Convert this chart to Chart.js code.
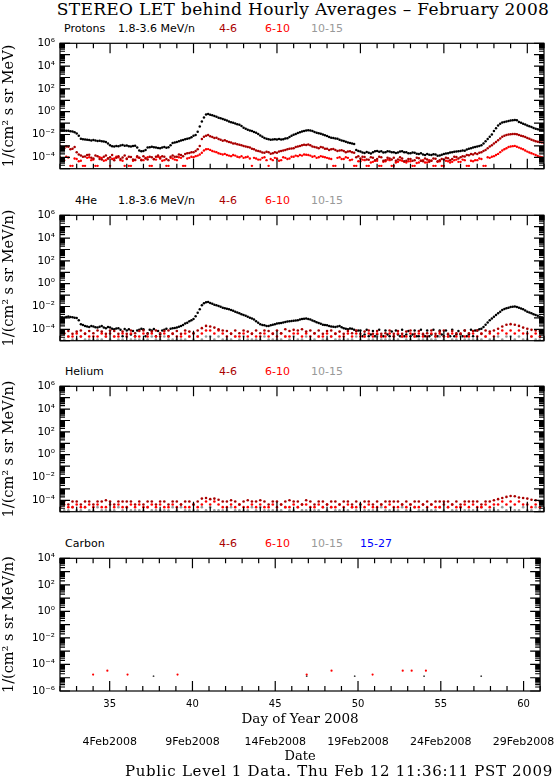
<!DOCTYPE html>
<html>
<head>
<meta charset="utf-8">
<script src="https://cdn.jsdelivr.net/npm/chart.js@4.4.1/dist/chart.umd.min.js"></script>
<style>
  body { margin: 0; background: #fff; width: 560px; height: 778px; position: relative; overflow: hidden; }
  canvas { position: absolute; left: 0; }
  .txt { position: absolute; white-space: nowrap; line-height: 1; color: #000; }
  .serif { font-family: "DejaVu Serif", serif; }
  .lg { position: absolute; left: 0; width: 560px; height: 12px; font: 11px "DejaVu Sans", sans-serif; line-height: 12px; }
  .lg span { position: absolute; top: 0; white-space: nowrap; }
</style>
</head>
<body>

<div class="txt serif" style="left:303px; top:1px; transform:translateX(-50%); font-size:17px; letter-spacing:0.35px;">STEREO LET behind Hourly Averages – February 2008</div>

<div class="lg" style="top:23px">
  <span style="left:64px">Protons</span><span style="left:118px">1.8-3.6 MeV/n</span>
  <span style="left:219px;color:#aa0000">4-6</span><span style="left:265px;color:#ff0000">6-10</span><span style="left:311px;color:#999999">10-15</span>
</div>
<div class="lg" style="top:195px">
  <span style="left:75px">4He</span><span style="left:118px">1.8-3.6 MeV/n</span>
  <span style="left:219px;color:#aa0000">4-6</span><span style="left:265px;color:#ff0000">6-10</span><span style="left:311px;color:#999999">10-15</span>
</div>
<div class="lg" style="top:366px">
  <span style="left:65px">Helium</span>
  <span style="left:219px;color:#aa0000">4-6</span><span style="left:265px;color:#ff0000">6-10</span><span style="left:311px;color:#999999">10-15</span>
</div>
<div class="lg" style="top:538px">
  <span style="left:65px">Carbon</span>
  <span style="left:219px;color:#aa0000">4-6</span><span style="left:265px;color:#ff0000">6-10</span><span style="left:311px;color:#999999">10-15</span><span style="left:360px;color:#0000ff">15-27</span>
</div>

<canvas id="protons" width="560" height="148" style="top:32px"></canvas>
<canvas id="he4" width="560" height="148" style="top:204px"></canvas>
<canvas id="helium" width="560" height="148" style="top:375px"></canvas>
<canvas id="carbon" width="560" height="218" style="top:547px"></canvas>

<div class="txt serif" style="left:339px; top:764px; transform:translateX(-50%); font-size:15px; letter-spacing:0.7px;">Public Level 1 Data. Thu Feb 12 11:36:11 PST 2009</div>

<script>
// log10 flux read off the plot, sampled from day of year 32.0 to 61.0
// (8 per day for the main curves, 4 per day for the count-floor channels)
const firstDay = 32;
const lastDay = 61;

const dayTicks = [35, 40, 45, 50, 55, 60];
const dateLabels = ["4Feb2008", "9Feb2008", "14Feb2008", "19Feb2008", "24Feb2008", "29Feb2008"];
const fluxTicks = [1e6, 1e4, 1e2, 1e0, 1e-2, 1e-4];
const carbonFluxTicks = [1e4, 1e2, 1e0, 1e-2, 1e-4, 1e-6];

// Protons, 8 per day
const protonLow = [
  -1.62, -1.65, -1.64, -1.67, -1.68, -1.72, -1.74, -1.80,
  -1.92, -2.10, -2.38, -2.42, -2.44, -2.47, -2.48, -2.52,
  -2.49, -2.53, -2.56, -2.54, -2.60, -2.62, -2.66, -2.80,
  -2.95, -3.02, -3.06, -3.00, -3.02, -2.97, -2.93, -2.98,
  -2.96, -3.02, -3.06, -3.00, -2.98, -3.15, -3.40, -3.48,
  -3.45, -3.35, -3.15, -3.12, -3.08, -3.12, -3.15, -3.18,
  -3.20, -3.14, -3.10, -3.16, -3.12, -2.95, -2.75, -2.70,
  -2.66, -2.60, -2.52, -2.48, -2.42, -2.38, -2.32, -2.25,
  -2.12, -2.05, -1.75, -1.30, -0.85, -0.50, -0.25, -0.20,
  -0.26, -0.32, -0.38, -0.45, -0.52, -0.58, -0.63, -0.70,
  -0.78, -0.86, -0.92, -0.98, -1.04, -1.10, -1.15, -1.25,
  -1.40, -1.50, -1.58, -1.64, -1.70, -1.78, -1.85, -1.95,
  -2.08, -2.20, -2.30, -2.38, -2.42, -2.45, -2.44, -2.42,
  -2.43, -2.40, -2.44, -2.42, -2.36, -2.32, -2.22, -2.12,
  -2.02, -1.95, -1.86, -1.80, -1.74, -1.70, -1.66, -1.63,
  -1.66, -1.70, -1.78, -1.84, -1.90, -1.94, -2.00, -2.06,
  -2.14, -2.22, -2.28, -2.30, -2.35, -2.38, -2.45, -2.52,
  -2.58, -2.64, -2.70, -2.74, -2.80, -2.84, -3.35, -3.45,
  -3.50, -3.58, -3.62, -3.54, -3.60, -3.66, -3.55, -3.48,
  -3.45, -3.52, -3.48, -3.58, -3.55, -3.46, -3.50, -3.56,
  -3.55, -3.62, -3.58, -3.50, -3.48, -3.56, -3.55, -3.64,
  -3.65, -3.58, -3.60, -3.68, -3.70, -3.64, -3.75, -3.80,
  -3.70, -3.78, -3.80, -3.74, -3.75, -3.86, -3.85, -3.78,
  -3.70, -3.66, -3.65, -3.58, -3.55, -3.52, -3.50, -3.46,
  -3.45, -3.40, -3.42, -3.32, -3.25, -3.20, -3.15, -3.10,
  -3.05, -3.00, -2.95, -2.80, -2.60, -2.40, -2.20, -2.00,
  -1.70, -1.45, -1.20, -1.05, -0.95, -0.90, -0.85, -0.82,
  -0.78, -0.75, -0.72, -0.76, -0.90, -0.98, -1.05, -1.12,
  -1.20, -1.28, -1.35, -1.42, -1.50, -1.55, -1.60, -1.63,
  -1.65
];
const protonMid = [
  -3.00, -3.15, -3.20, -3.05, -3.08, -3.30, -3.25, -3.10,
  -3.55, -3.75, -3.85, -3.95, -3.92, -3.80, -3.78, -4.05,
  -4.10, -3.85, -3.90, -4.15, -4.20, -3.95, -3.85, -4.10,
  -4.00, -3.80, -4.25, -4.05, -3.90, -4.15, -4.02, -3.85,
  -4.15, -3.95, -3.98, -4.20, -4.22, -3.90, -4.05, -4.25,
  -3.90, -4.10, -4.20, -3.95, -4.00, -4.18, -3.95, -3.85,
  -4.10, -3.90, -3.96, -4.15, -4.25, -3.95, -3.85, -3.95,
  -3.95, -3.75, -3.80, -3.90, -3.70, -3.65, -3.62, -3.55,
  -3.55, -3.45, -3.30, -3.00, -2.40, -2.20, -2.10, -2.05,
  -2.15, -2.22, -2.30, -2.28, -2.40, -2.45, -2.55, -2.50,
  -2.60, -2.66, -2.70, -2.78, -2.80, -2.85, -2.90, -2.95,
  -3.00, -3.05, -3.10, -3.15, -3.25, -3.30, -3.40, -3.45,
  -3.50, -3.58, -3.60, -3.52, -3.55, -3.68, -3.65, -3.55,
  -3.60, -3.50, -3.45, -3.40, -3.35, -3.30, -3.25, -3.22,
  -3.20, -3.10, -3.05, -3.00, -2.95, -2.90, -2.92, -2.88,
  -2.95, -3.05, -3.10, -3.15, -3.20, -3.10, -3.15, -3.25,
  -3.25, -3.35, -3.30, -3.28, -3.35, -3.45, -3.40, -3.38,
  -3.45, -3.55, -3.50, -3.48, -3.55, -3.60, -4.00, -3.90,
  -4.10, -3.95, -3.97, -4.20, -4.22, -4.00, -4.05, -4.25,
  -4.15, -3.95, -4.00, -4.30, -4.25, -4.05, -4.10, -4.20,
  -4.05, -4.30, -4.20, -4.00, -4.10, -4.35, -4.30, -4.15,
  -4.15, -4.30, -4.25, -4.05, -4.08, -4.30, -4.35, -4.10,
  -4.20, -4.40, -4.30, -4.10, -4.12, -4.35, -4.25, -4.15,
  -4.20, -4.05, -4.08, -4.25, -4.15, -3.95, -3.98, -4.10,
  -4.00, -3.90, -3.92, -3.80, -3.82, -3.70, -3.75, -3.65,
  -3.70, -3.60, -3.55, -3.45, -3.35, -3.20, -3.05, -2.95,
  -2.80, -2.65, -2.50, -2.35, -2.20, -2.10, -2.05, -2.00,
  -1.98, -1.96, -1.95, -1.98, -2.05, -2.10, -2.15, -2.22,
  -2.30, -2.38, -2.45, -2.52, -2.60, -2.64, -2.68, -2.70,
  -2.73
];
const protonHigh = [
  -4.00, -4.20, -4.25, -3.95, -4.02, -4.75, -4.75, -4.10,
  -4.15, -4.35, -4.30, -4.75, -4.75, -4.05, -4.00, -4.25,
  -4.20, -4.75, -4.75, -4.00, -4.05, -4.30, -4.25, -4.10,
  -4.75, -4.15, -4.10, -3.95, -4.00, -4.25, -4.30, -4.75,
  -4.10, -4.75, -4.75, -4.30, -4.25, -4.00, -4.05, -4.20,
  -4.25, -4.05, -4.00, -4.75, -4.75, -4.15, -4.20, -3.95,
  -4.00, -4.30, -4.25, -4.75, -4.75, -4.05, -4.10, -4.20,
  -4.25, -4.00, -4.05, -4.75, -4.75, -4.10, -4.05, -3.95,
  -4.00, -3.90, -3.85, -3.75, -3.60, -3.40, -3.30, -3.28,
  -3.35, -3.45, -3.50, -3.55, -3.65, -3.70, -3.75, -3.70,
  -3.80, -3.85, -3.90, -3.80, -3.85, -3.95, -4.00, -3.90,
  -4.05, -4.00, -3.95, -4.10, -4.75, -4.05, -4.10, -4.20,
  -4.20, -4.05, -4.00, -4.25, -4.75, -4.15, -4.25, -4.05,
  -4.10, -4.30, -4.25, -4.00, -4.05, -4.15, -4.10, -3.95,
  -3.95, -3.85, -3.90, -3.80, -3.85, -3.75, -3.78, -3.80,
  -3.85, -3.95, -3.90, -4.05, -4.00, -3.90, -3.95, -4.00,
  -4.05, -4.10, -4.15, -4.75, -4.75, -4.05, -4.00, -4.15,
  -4.15, -4.00, -4.05, -4.25, -4.20, -4.75, -4.75, -4.35,
  -4.35, -4.20, -4.25, -4.75, -4.75, -4.45, -4.40, -4.30,
  -4.30, -4.75, -4.75, -4.40, -4.35, -4.20, -4.25, -4.75,
  -4.75, -4.45, -4.40, -4.25, -4.30, -4.40, -4.45, -4.35,
  -4.35, -4.75, -4.75, -4.50, -4.45, -4.30, -4.25, -4.45,
  -4.45, -4.25, -4.30, -4.75, -4.75, -4.40, -4.35, -4.75,
  -4.75, -4.30, -4.35, -4.45, -4.40, -4.25, -4.20, -4.40,
  -4.40, -4.20, -4.25, -4.75, -4.75, -4.30, -4.35, -4.25,
  -4.25, -4.10, -4.15, -4.75, -4.75, -4.00, -4.05, -3.95,
  -3.90, -3.80, -3.70, -3.55, -3.40, -3.30, -3.20, -3.10,
  -3.05, -3.02, -3.00, -3.08, -3.15, -3.22, -3.30, -3.40,
  -3.50, -3.58, -3.65, -3.72, -3.80, -3.88, -3.95, -4.00,
  -4.05
];

// 4He 1.8-3.6 MeV/n, 8 per day
const he4Low = [
  -2.90, -2.94, -2.96, -2.92, -2.88, -2.93, -2.95, -2.98,
  -3.00, -3.20, -3.55, -3.62, -3.70, -3.75, -3.80, -3.72,
  -3.75, -3.82, -3.85, -3.78, -3.70, -3.85, -3.90, -3.80,
  -3.85, -3.95, -4.00, -3.92, -3.90, -4.05, -4.60, -3.98,
  -4.10, -4.00, -4.45, -4.15, -4.60, -4.10, -4.05, -3.95,
  -4.00, -4.60, -4.35, -4.05, -4.10, -3.98, -4.60, -4.15,
  -4.45, -4.10, -4.05, -3.95, -4.60, -3.95, -3.90, -3.88,
  -3.85, -3.78, -3.70, -3.62, -3.50, -3.42, -3.30, -3.20,
  -3.10, -2.85, -2.55, -2.25, -1.90, -1.72, -1.62, -1.60,
  -1.70, -1.76, -1.85, -1.88, -1.95, -2.02, -2.10, -2.15,
  -2.20, -2.25, -2.30, -2.38, -2.45, -2.52, -2.60, -2.68,
  -2.75, -2.82, -2.90, -2.98, -3.05, -3.15, -3.30, -3.42,
  -3.55, -3.62, -3.65, -3.70, -3.70, -3.64, -3.60, -3.56,
  -3.50, -3.48, -3.45, -3.40, -3.35, -3.32, -3.30, -3.28,
  -3.25, -3.22, -3.20, -3.15, -3.10, -3.08, -3.05, -3.10,
  -3.15, -3.22, -3.30, -3.38, -3.45, -3.52, -3.60, -3.62,
  -3.65, -3.70, -3.75, -3.78, -3.80, -3.75, -3.70, -3.82,
  -3.90, -3.95, -4.00, -3.92, -3.95, -4.05, -4.15, -4.10,
  -4.10, -4.60, -4.45, -4.05, -4.60, -4.45, -4.15, -4.60,
  -4.45, -4.05, -4.60, -4.60, -4.10, -4.45, -4.60, -4.20,
  -4.60, -4.10, -4.45, -4.60, -4.05, -4.60, -4.45, -4.15,
  -4.60, -4.45, -4.10, -4.60, -4.60, -4.05, -4.45, -4.60,
  -4.10, -4.60, -4.45, -4.05, -4.60, -4.60, -4.10, -4.45,
  -4.60, -4.10, -4.45, -4.60, -4.05, -4.60, -4.45, -4.15,
  -4.45, -4.60, -4.10, -4.60, -4.45, -4.05, -4.60, -4.10,
  -4.10, -4.00, -3.95, -3.80, -3.60, -3.40, -3.20, -3.05,
  -2.90, -2.75, -2.60, -2.45, -2.30, -2.22, -2.15, -2.10,
  -2.05, -2.02, -2.00, -2.05, -2.10, -2.18, -2.25, -2.35,
  -2.45, -2.52, -2.60, -2.68, -2.75, -2.82, -2.90, -2.95,
  -3.00
];

// 4He higher channels, 4 per day
const he4Mid = [
  -4.10, -4.35, -4.15, -4.40,  -4.20, -4.10, -4.40, -4.15,  -4.35, -4.10, -4.20, -4.40,
  -4.10, -4.15, -4.40, -4.20,  -4.40, -4.10, -4.35, -4.15,  -4.10, -4.40, -4.20, -4.10,
  -4.35, -4.15, -4.10, -4.40,  -4.15, -4.40, -4.10, -4.20,  -4.35, -4.10, -3.90, -3.70,
  -3.75, -3.85, -4.00, -4.10,  -4.15, -4.40, -4.10, -4.35,  -4.10, -4.20, -4.40, -4.10,
  -4.35, -4.10, -4.15, -4.40,  -4.10, -4.35, -4.00, -4.15,  -4.05, -4.10, -4.00, -4.20,
  -4.10, -4.35, -4.10, -4.40,  -4.15, -4.10, -4.40, -4.20,  -4.40, -4.15, -4.35, -4.10,
  -4.40, -4.20, -4.10, -4.40,  -4.15, -4.40, -4.35, -4.10,  -4.40, -4.15, -4.40, -4.20,
  -4.10, -4.40, -4.15, -4.40,  -4.35, -4.10, -4.40, -4.20,  -4.10, -4.40, -4.15, -4.35,
  -4.40, -4.10, -4.35, -4.15,  -4.10, -4.40, -4.10, -4.20,  -4.10, -3.95, -3.75, -3.60,
  -3.55, -3.60, -3.70, -3.85,  -3.95, -4.05, -4.10, -4.15,  -4.10
];
const he4High = [
  -4.63, -4.37, -4.63, -4.63,  -4.37, -4.63, -4.37, -4.63,  -4.63, -4.63, -4.37, -4.63,
  -4.37, -4.63, -4.63, -4.37,  -4.63, -4.37, -4.63, -4.63,  -4.37, -4.63, -4.37, -4.63,
  -4.63, -4.37, -4.63, -4.37,  -4.63, -4.63, -4.37, -4.63,  -4.37, -4.63, -4.37, -4.10,
  -4.10, -4.37, -4.10, -4.37,  -4.63, -4.37, -4.63, -4.63,  -4.37, -4.63, -4.37, -4.63,
  -4.63, -4.37, -4.63, -4.37,  -4.63, -4.37, -4.63, -4.63,  -4.37, -4.37, -4.63, -4.37,
  -4.63, -4.37, -4.63, -4.63,  -4.37, -4.63, -4.37, -4.63,  -4.63, -4.37, -4.63, -4.37,
  -4.63, -4.63, -4.37, -4.63,  -4.37, -4.63, -4.63, -4.37,  -4.63, -4.37, -4.63, -4.63,
  -4.37, -4.63, -4.37, -4.63,  -4.63, -4.37, -4.63, -4.37,  -4.63, -4.63, -4.37, -4.63,
  -4.37, -4.63, -4.63, -4.37,  -4.63, -4.37, -4.63, -4.37,  -4.63, -4.37, -4.10, -4.37,
  -4.10, -4.37, -4.10, -4.37,  -4.37, -4.63, -4.37, -4.63,  -4.37
];
const he4Top = [
  -4.90, -4.90, -4.63, -4.90,  -4.90, -4.63, -4.90, -4.90,  -4.90, -4.90, -4.90, -4.63,
  -4.90, -4.63, -4.90, -4.90,  -4.63, -4.90, -4.90, -4.90,  -4.90, -4.90, -4.63, -4.90,
  -4.90, -4.63, -4.90, -4.90,  -4.90, -4.90, -4.90, -4.63,  -4.90, -4.63, -4.90, -4.63,
  -4.63, -4.90, -4.63, -4.90,  -4.90, -4.90, -4.63, -4.90,  -4.63, -4.90, -4.90, -4.90,
  -4.90, -4.63, -4.90, -4.90,  -4.90, -4.90, -4.63, -4.90,  -4.63, -4.90, -4.90, -4.63,
  -4.90, -4.90, -4.63, -4.90,  -4.90, -4.63, -4.90, -4.90,  -4.90, -4.90, -4.90, -4.63,
  -4.90, -4.63, -4.90, -4.90,  -4.63, -4.90, -4.90, -4.90,  -4.90, -4.90, -4.63, -4.90,
  -4.90, -4.63, -4.90, -4.90,  -4.90, -4.90, -4.90, -4.63,  -4.90, -4.63, -4.90, -4.90,
  -4.63, -4.90, -4.90, -4.90,  -4.90, -4.90, -4.63, -4.90,  -4.90, -4.63, -4.90, -4.63,
  -4.63, -4.90, -4.63, -4.90,  -4.90, -4.63, -4.90, -4.90,  -4.90
];

// Helium, 4 per day
const heliumMid = [
  -4.10, -4.10, -4.37, -4.10,  -4.10, -4.37, -4.10, -4.10,  -4.37, -4.10, -4.10, -4.00,
  -4.10, -4.37, -4.10, -4.10,  -4.10, -4.10, -4.37, -4.10,  -4.37, -4.10, -4.10, -4.37,
  -4.10, -4.10, -4.37, -4.10,  -4.10, -4.37, -4.10, -4.10,  -4.37, -4.10, -3.85, -3.80,
  -3.90, -3.85, -3.95, -4.10,  -4.10, -4.00, -4.10, -4.37,  -4.10, -4.00, -4.10, -4.10,
  -4.00, -4.10, -4.37, -4.10,  -4.10, -4.37, -4.10, -4.00,  -4.10, -4.10, -4.37, -4.00,
  -4.10, -4.37, -4.10, -4.10,  -4.37, -4.10, -4.10, -4.37,  -4.10, -4.10, -4.37, -4.10,
  -4.37, -4.10, -4.10, -4.37,  -4.10, -4.37, -4.10, -4.10,  -4.10, -4.10, -4.37, -4.10,
  -4.37, -4.10, -4.10, -4.37,  -4.10, -4.37, -4.10, -4.10,  -4.10, -4.10, -4.37, -4.10,
  -4.37, -4.10, -4.10, -4.10,  -4.10, -4.37, -4.10, -4.10,  -4.00, -3.90, -3.80, -3.70,
  -3.62, -3.65, -3.75, -3.80,  -3.85, -3.95, -4.00, -4.10,  -4.10
];
const heliumHigh = [
  -4.60, -4.37, -4.60, -4.60,  -4.37, -4.60, -4.60, -4.37,  -4.60, -4.37, -4.60, -4.60,
  -4.37, -4.60, -4.37, -4.60,  -4.60, -4.37, -4.60, -4.37,  -4.60, -4.60, -4.37, -4.60,
  -4.37, -4.60, -4.60, -4.37,  -4.60, -4.37, -4.60, -4.60,  -4.37, -4.60, -4.37, -4.10,
  -4.37, -4.10, -4.37, -4.60,  -4.60, -4.37, -4.60, -4.37,  -4.60, -4.60, -4.37, -4.60,
  -4.37, -4.60, -4.60, -4.37,  -4.60, -4.37, -4.60, -4.60,  -4.37, -4.60, -4.37, -4.37,
  -4.60, -4.60, -4.37, -4.60,  -4.37, -4.60, -4.60, -4.37,  -4.60, -4.37, -4.60, -4.60,
  -4.37, -4.60, -4.37, -4.60,  -4.60, -4.37, -4.60, -4.37,  -4.60, -4.60, -4.37, -4.60,
  -4.37, -4.60, -4.60, -4.37,  -4.60, -4.37, -4.60, -4.60,  -4.37, -4.60, -4.37, -4.60,
  -4.60, -4.37, -4.60, -4.37,  -4.60, -4.60, -4.37, -4.60,  -4.37, -4.37, -4.10, -4.37,
  -4.10, -4.37, -4.10, -4.37,  -4.37, -4.60, -4.37, -4.60,  -4.37
];
const heliumTop = [
  -4.88, -4.88, -4.88, -4.60,  -4.88, -4.88, -4.60, -4.88,  -4.88, -4.60, -4.88, -4.88,
  -4.88, -4.88, -4.60, -4.88,  -4.60, -4.88, -4.88, -4.88,  -4.88, -4.60, -4.88, -4.88,
  -4.88, -4.88, -4.88, -4.60,  -4.88, -4.60, -4.88, -4.88,  -4.88, -4.88, -4.60, -4.88,
  -4.60, -4.88, -4.88, -4.88,  -4.88, -4.60, -4.88, -4.88,  -4.88, -4.88, -4.60, -4.88,
  -4.60, -4.88, -4.88, -4.88,  -4.88, -4.88, -4.60, -4.88,  -4.88, -4.60, -4.88, -4.88,
  -4.88, -4.88, -4.88, -4.60,  -4.88, -4.60, -4.88, -4.88,  -4.88, -4.88, -4.60, -4.88,
  -4.60, -4.88, -4.88, -4.88,  -4.88, -4.60, -4.88, -4.88,  -4.88, -4.88, -4.60, -4.88,
  -4.88, -4.60, -4.88, -4.88,  -4.88, -4.88, -4.88, -4.60,  -4.88, -4.60, -4.88, -4.88,
  -4.60, -4.88, -4.88, -4.88,  -4.88, -4.60, -4.88, -4.88,  -4.88, -4.88, -4.60, -4.88,
  -4.60, -4.88, -4.88, -4.60,  -4.88, -4.88, -4.60, -4.88,  -4.88
];

// Carbon: only a handful of single-count hours
const carbonRedDays = [34.0, 34.86, 36.08, 39.1, 46.9, 48.4, 50.88, 52.7, 53.24, 54.1];
const carbonRedLog = [-4.76, -4.47, -4.76, -4.76, -4.76, -4.47, -4.76, -4.47, -4.47, -4.47];
const carbonLowDays = [37.65, 46.9, 49.8, 53.99, 57.44];
const carbonLowLog = [-4.88, -4.88, -4.88, -4.88, -4.88];

const DARKRED = "#aa0000", RED = "#ff0000", GRAY = "#999999", BLACK = "#000000";

function series(logs, perDay) {
  return logs.map((l, i) => ({ x: firstDay + i / perDay, y: Math.pow(10, l) }));
}
function pairs(days, logs) {
  return days.map((d, i) => ({ x: d, y: Math.pow(10, logs[i]) }));
}

const SUP = { "-": "\u207B", "0": "\u2070", "1": "\u00B9", "2": "\u00B2", "3": "\u00B3",
  "4": "\u2074", "5": "\u2075", "6": "\u2076", "7": "\u2077", "8": "\u2078", "9": "\u2079" };
function powerLabel(v) {
  const e = Math.round(Math.log10(v));
  return "10" + String(e).split("").map(c => SUP[c]).join("");
}

// box round the plot with inward ticks on all four sides, IDL style
const frameTicks = {
  id: "frameTicks",
  afterDraw(chart) {
    const { ctx, chartArea: a, scales: { x, y } } = chart;
    ctx.save();
    ctx.strokeStyle = "#000";
    ctx.lineWidth = 1.2;
    ctx.strokeRect(a.left, a.top, a.right - a.left, a.bottom - a.top);
    ctx.beginPath();
    for (let d = Math.ceil(x.min); d <= x.max; d++) {
      const px = x.getPixelForValue(d);
      const len = d % 5 === 0 ? 10 : 5;
      ctx.moveTo(px, a.bottom); ctx.lineTo(px, a.bottom - len);
      ctx.moveTo(px, a.top); ctx.lineTo(px, a.top + len);
    }
    const e0 = Math.round(Math.log10(y.min)), e1 = Math.round(Math.log10(y.max));
    for (let e = e0; e <= e1; e++) {
      for (let m = 1; m <= 9; m++) {
        const v = m * Math.pow(10, e);
        if (v > y.max * 1.0001) break;
        const py = y.getPixelForValue(v);
        const len = m === 1 ? 10 : 5;
        ctx.moveTo(a.left, py); ctx.lineTo(a.left + len, py);
        ctx.moveTo(a.right, py); ctx.lineTo(a.right - len, py);
      }
    }
    ctx.stroke();
    ctx.restore();
  }
};

function dots(data, color, r, order) {
  return { data, backgroundColor: color, borderColor: color, pointRadius: r || 1.3,
    pointBorderWidth: 0, pointHoverRadius: 0, showLine: false, order: order || 0 };
}

function makePanel(id, yMin, yMax, yTicks, yTitle, datasets, withDates) {
  const scales = {
    x: {
      type: "linear", min: firstDay, max: lastDay, display: withDates,
      grid: { display: false, drawTicks: false }, border: { display: false },
      afterBuildTicks: s => { s.ticks = dayTicks.map(v => ({ value: v })); },
      ticks: { autoSkip: false, maxRotation: 0, padding: 7, color: "#000",
        font: { family: "DejaVu Sans", size: 10 } },
      title: { display: true, text: "Day of Year 2008", color: "#000",
        font: { family: "DejaVu Serif", size: 13.5 }, padding: { top: 0, bottom: 3 } }
    },
    y: {
      type: "logarithmic", min: yMin, max: yMax,
      grid: { display: false, drawTicks: false }, border: { display: false },
      afterBuildTicks: s => { s.ticks = yTicks.map(v => ({ value: v })); },
      afterFit: s => { s.width = 60; },
      ticks: { autoSkip: false, padding: 5, color: "#000",
        font: { family: "DejaVu Sans", size: 10.5 }, callback: powerLabel },
      title: { display: true, text: yTitle, color: "#000",
        font: { family: "DejaVu Serif", size: 14.5 }, padding: { top: 1, bottom: 0 } }
    }
  };
  if (withDates) {
    scales.x.afterFit = s => { s.height = 40; };
    scales.x2 = {
      type: "linear", min: firstDay, max: lastDay, position: "bottom", weight: 1,
      grid: { display: false, drawTicks: false }, border: { display: false },
      afterBuildTicks: s => { s.ticks = dayTicks.map(v => ({ value: v })); },
      afterFit: s => { s.height = 34; },
      ticks: { autoSkip: false, maxRotation: 0, padding: 5, color: "#000",
        font: { family: "DejaVu Sans", size: 11 }, callback: (v, i) => dateLabels[i] },
      title: { display: true, text: "Date", color: "#000",
        font: { family: "DejaVu Serif", size: 13 }, padding: { top: 0, bottom: 0.5 } }
    };
  }
  return new Chart(document.getElementById(id), {
    type: "scatter",
    data: { datasets },
    options: {
      responsive: false, animation: false, events: [],
      layout: { padding: { top: 4, right: 16, bottom: withDates ? 0 : 4, left: 0 } },
      plugins: { legend: { display: false }, tooltip: { enabled: false } },
      scales
    },
    plugins: [frameTicks]
  });
}

makePanel("protons", 1e-5, 1e6, fluxTicks, "1/(cm\u00B2 s sr MeV)", [
  dots(series(protonLow, 8), BLACK, 1.25),
  dots(series(protonMid, 8), DARKRED, 1.25),
  dots(series(protonHigh, 8), RED, 1.2)
], false);

// black 4He sits underneath the floor channels, as in the original overplot
makePanel("he4", 1e-5, 1e6, fluxTicks, "1/(cm\u00B2 s sr MeV/n)", [
  dots(series(he4Low, 8), BLACK, 1.25, 5),
  dots(series(he4Mid, 4), DARKRED, 1.3),
  dots(series(he4High, 4), RED, 1.3),
  dots(series(he4Top, 4), GRAY, 1.3)
], false);

makePanel("helium", 1e-5, 1e6, fluxTicks, "1/(cm\u00B2 s sr MeV/n)", [
  dots(series(heliumMid, 4), DARKRED, 1.3),
  dots(series(heliumHigh, 4), RED, 1.3),
  dots(series(heliumTop, 4), GRAY, 1.3)
], false);

makePanel("carbon", 1e-6, 1e4, carbonFluxTicks, "1/(cm\u00B2 s sr MeV/n)", [
  dots(pairs(carbonRedDays, carbonRedLog), RED, 1.1),
  dots(pairs(carbonLowDays, carbonLowLog), "#444444", 0.9)
], true);
</script>
</body>
</html>
